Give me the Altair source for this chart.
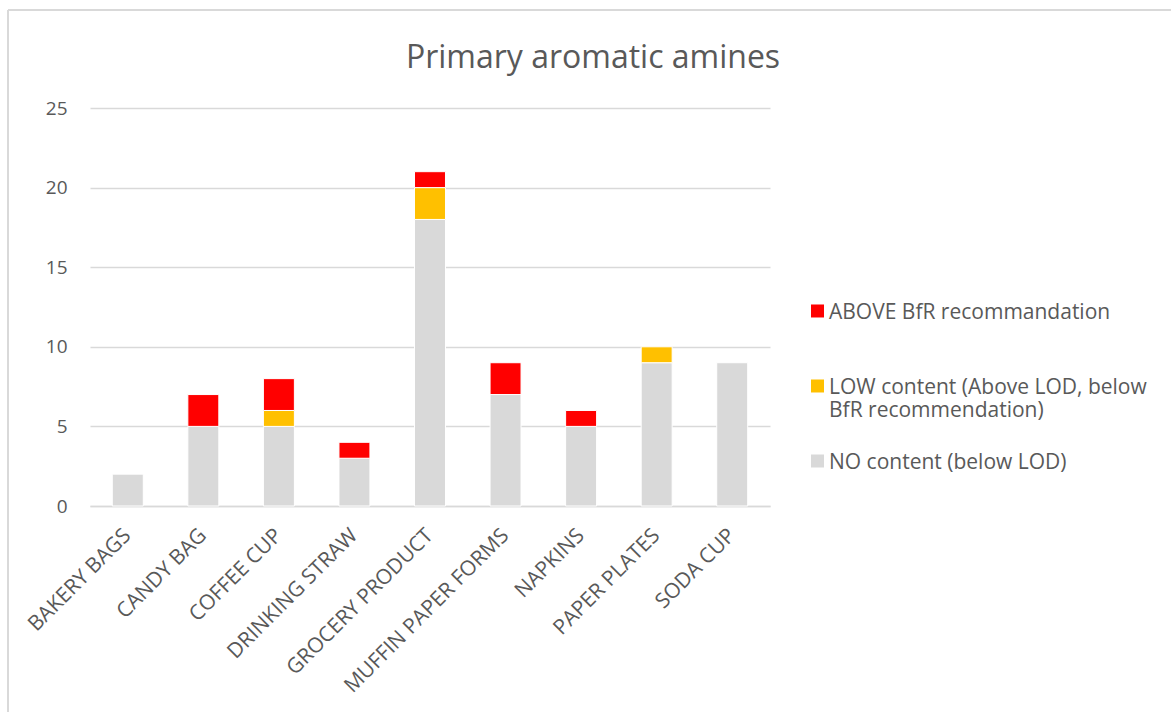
import altair as alt
import pandas as pd

categories = ["BAKERY BAGS", "CANDY BAG", "COFFEE CUP", "DRINKING STRAW", "GROCERY PRODUCT",
              "MUFFIN PAPER FORMS", "NAPKINS", "PAPER PLATES", "SODA CUP"]
no_content = [2, 5, 5, 3, 18, 7, 5, 9, 9]
low_content = [0, 0, 1, 0, 2, 0, 0, 1, 0]
above_bfr = [0, 2, 2, 1, 1, 2, 1, 0, 0]
series = ["ABOVE BfR recommandation",
          "LOW content (Above LOD, below BfR recommendation)",
          "NO content (below LOD)"]
colors = ["#FF0000", "#FFC000", "#D9D9D9"]
y_ticks = [0, 5, 10, 15, 20, 25]

rows = []
for i, c in enumerate(categories):
    for s, vals, o in [(series[2], no_content, 0), (series[1], low_content, 1), (series[0], above_bfr, 2)]:
        if vals[i] > 0:
            rows.append({"category": c, "series": s, "value": vals[i], "order": o})
df = pd.DataFrame(rows)

TXT = "#595959"
GRID = "#D9D9D9"

label_expr = ("datum.label == 'LOW content (Above LOD, below BfR recommendation)' ? "
              "['LOW content (Above LOD, below', 'BfR recommendation)'] : datum.label")

bars = alt.Chart(df).mark_bar(stroke="white", strokeWidth=1).encode(
    x=alt.X("category:N", sort=categories,
            scale=alt.Scale(paddingInner=0.59, paddingOuter=0.295),
            axis=alt.Axis(title=None, labelAngle=-45, labelAlign="right", labelBaseline="middle",
                          labelFontSize=21, labelColor=TXT, ticks=False, domainColor=GRID,
                          domainWidth=1.5, labelPadding=26, labelLimit=400, grid=False)),
    y=alt.Y("value:Q", stack="zero", scale=alt.Scale(domain=[0, 25], nice=False),
            axis=alt.Axis(title=None, values=y_ticks, domain=False, ticks=False,
                          gridColor=GRID, gridWidth=1.5, labelPadding=23,
                          labelFontSize=19, labelColor=TXT)),
    color=alt.Color("series:N", scale=alt.Scale(domain=series, range=colors),
                    legend=alt.Legend(title=None, orient="none", legendX=717, legendY=183,
                                      symbolType="M-1,0.46H1V2.46H-1Z", symbolSize=169,
                                      symbolStrokeWidth=0, labelFontSize=21, labelColor=TXT,
                                      labelLimit=400, rowPadding=20, gridAlign="all",
                                      labelExpr=label_expr, labelBaseline="top",
                                      labelOffset=1, padding=0)),
    order=alt.Order("order:Q", sort="ascending"),
)

frame_df = pd.DataFrame({"a": [0]})
vline = alt.Chart(frame_df).mark_rule(color=GRID, strokeWidth=2).encode(
    x=alt.value(-82), y=alt.value(-98), y2=alt.value(604))
hline = alt.Chart(frame_df).mark_rule(color=GRID, strokeWidth=2).encode(
    x=alt.value(-82), x2=alt.value(1081), y=alt.value(-98))

chart = alt.layer(bars, vline, hline).properties(
    width=680, height=398,
    title=alt.TitleParams("Primary aromatic amines", fontSize=32, color=TXT, font="Open Sans",
                          fontWeight="normal", anchor="middle", frame="group", dx=163, dy=86,
                          offset=20),
    autosize=alt.AutoSizeParams(type="none"),
    padding={"left": 90, "top": 108, "right": 401, "bottom": 206},
).configure(font="Open Sans").configure_view(stroke=None)

chart.save("out.html", embed_options={"renderer": "svg", "actions": False})
